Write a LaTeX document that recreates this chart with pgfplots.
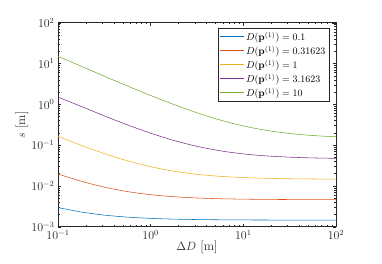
\documentclass[border=0pt]{standalone}
\usepackage{pgfplots}
\pgfplotsset{compat=1.18}
\usetikzlibrary{calc}
\definecolor{mblue}{rgb}{0,0.447,0.741}
\definecolor{morange}{rgb}{0.85,0.325,0.098}
\definecolor{myellow}{rgb}{0.929,0.694,0.125}
\definecolor{mpurple}{rgb}{0.494,0.184,0.556}
\definecolor{mgreen}{rgb}{0.466,0.674,0.188}
\definecolor{axgray}{rgb}{0.15,0.15,0.15}
\pgfplotsset{
  mleg/.style={legend image code/.code={\node[inner sep=0pt, anchor=west] at (0cm,0cm) {\textcolor{#1}{\rule[-0.3pt]{0.85cm}{0.6pt}}};}}
}
\begin{document}
\begin{tikzpicture}
\begin{axis}[
  scale only axis, width=278bp, height=204bp,
  xmode=log, ymode=log,
  xmin=0.1, xmax=100, ymin=1e-3, ymax=100,
  xtick={0.1,1,10,100}, ytick={1e-3,1e-2,1e-1,1,10,100},
  axis line style={axgray, line width=0.5pt},
  tick style={axgray, line width=0.4pt},
  major tick length=3bp, minor tick length=1.8bp,
  tick label style={text=axgray, font=\fontsize{11.5}{13}\selectfont},
  xlabel={$\Delta D$ [m]}, ylabel={$s$ [m]},
  label style={text=axgray, font=\fontsize{12.7}{14}\selectfont},
  xlabel style={at={(axis description cs:0.5,0)}, anchor=center, yshift=-21bp},
  ylabel style={at={(axis description cs:0,0.5)}, anchor=center, yshift=36bp},
  legend style={at={(rel axis cs:0.975,0.972)}, anchor=north east,
    fill=white, draw=axgray, inner sep=1.5pt,
    row sep=-0.4pt, font=\fontsize{10.4}{12}\selectfont},
  legend cell align=left,
]
\addplot[draw=mblue, line width=0.55pt, smooth, mleg=mblue] coordinates {(0.1,0.00295) (0.1778,0.002293) (0.3162,0.001924) (0.5623,0.001717) (1,0.0016) (1.778,0.001534) (3.162,0.001497) (5.623,0.001477) (10,0.001465) (17.78,0.001458) (31.62,0.001455) (56.23,0.001453) (100,0.001452)};
\addlegendentry{$D(\mathbf{p}^{(1)}) = 0.1$}
\addplot[draw=morange, line width=0.55pt, smooth, mleg=morange] coordinates {(0.1,0.019585) (0.1778,0.01302) (0.3162,0.009328) (0.5623,0.007252) (1,0.006085) (1.778,0.005428) (3.162,0.005059) (5.623,0.004852) (10,0.004735) (17.78,0.004669) (31.62,0.004632) (56.23,0.004612) (100,0.0046)};
\addlegendentry{$D(\mathbf{p}^{(1)}) = 0.31623$}
\addplot[draw=myellow, line width=0.55pt, smooth, mleg=myellow] coordinates {(0.1,0.1645) (0.1778,0.098845) (0.3162,0.06193) (0.5623,0.04117) (1,0.0295) (1.778,0.022935) (3.162,0.019243) (5.623,0.017167) (10,0.016) (17.78,0.015343) (31.62,0.014974) (56.23,0.014767) (100,0.01465)};
\addlegendentry{$D(\mathbf{p}^{(1)}) = 1$}
\addplot[draw=mpurple, line width=0.55pt, smooth, mleg=mpurple] coordinates {(0.1,1.5) (0.1778,0.8893) (0.3162,0.52015) (0.5623,0.31255) (1,0.19585) (1.778,0.1302) (3.162,0.093283) (5.623,0.072523) (10,0.060853) (17.78,0.054288) (31.62,0.050596) (56.23,0.04852) (100,0.047353)};
\addlegendentry{$D(\mathbf{p}^{(1)}) = 3.1623$}
\addplot[draw=mgreen, line width=0.55pt, smooth, mleg=mgreen] coordinates {(0.1,15.0) (0.1778,8.5795) (0.3162,4.888) (0.5623,2.812) (1,1.645) (1.778,0.98845) (3.162,0.6193) (5.623,0.4117) (10,0.295) (17.78,0.22935) (31.62,0.19243) (56.23,0.17167) (100,0.16)};
\addlegendentry{$D(\mathbf{p}^{(1)}) = 10$}
\end{axis}
\path ($(current axis.south west)+(-58bp,-37.3bp)$) rectangle ($(current axis.north east)+(46bp,22.7bp)$);
\end{tikzpicture}
\end{document}
